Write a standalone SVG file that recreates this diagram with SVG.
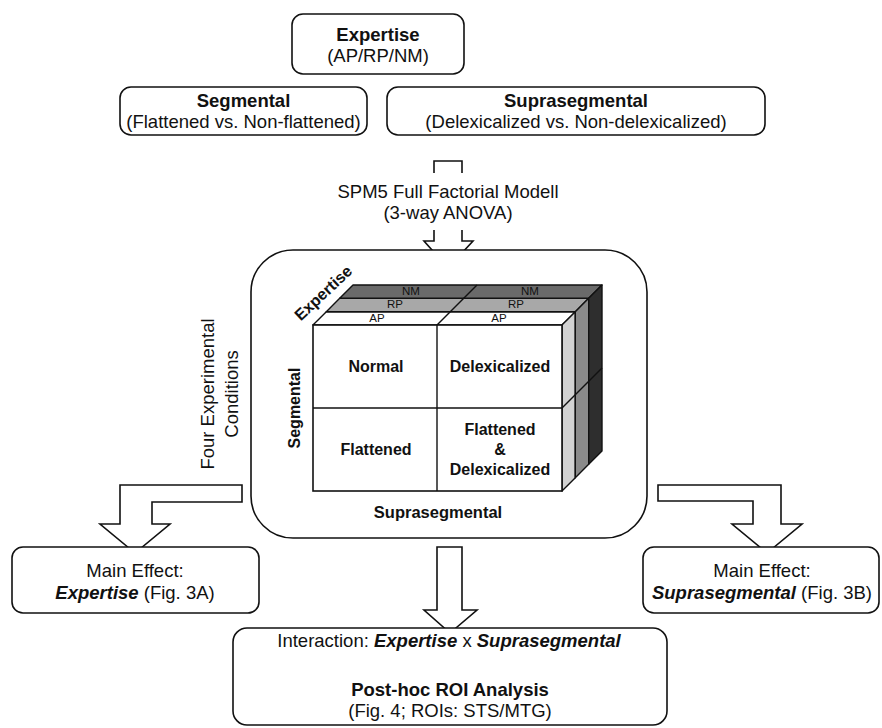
<svg xmlns="http://www.w3.org/2000/svg" width="882" height="728" viewBox="0 0 882 728">
<style>
text{font-family:"Liberation Sans",Arial,sans-serif;fill:#111}
.t{font-size:18.5px}
.b{font-weight:bold}
.bi{font-weight:bold;font-style:italic}
.box{fill:#fff;stroke:#111;stroke-width:1.6}
.arr{fill:#fff;stroke:#111;stroke-width:1.6;stroke-linejoin:miter}
.cl{font-size:16px;font-weight:bold}
.sm{font-size:11.5px}
.edge{stroke:#111;stroke-width:1.4;stroke-linejoin:round}
</style>
<rect width="882" height="728" fill="#fff"/>

<g id="connectors">
  <path class="arr" d="M434,173 V161 H462 V173" fill="none"/>
  <path class="arr" d="M434,230 V241 H424 L448,268 L473,241 H462 V230"/>
  <path class="arr" d="M242,485 H120 V524 H100 L135,553 L170,524 H152 V502 H242 Z"/>
  <path class="arr" d="M658,485 H781 V524 H802 L767,553 L732,524 H753 V501 H658 Z"/>
  <path class="arr" d="M437,547 H462 V610 H477 L450,633 L424,610 H437 Z"/>
</g>

<g id="expertise">
  <rect class="box" x="292" y="14" width="172" height="60" rx="11"/>
  <text class="t b" x="378" y="41" text-anchor="middle">Expertise</text>
  <text class="t" x="378" y="62" text-anchor="middle">(AP/RP/NM)</text>
</g>

<g id="segmental">
  <rect class="box" x="120" y="87" width="247" height="48" rx="11"/>
  <text class="t b" x="243.5" y="107" text-anchor="middle">Segmental</text>
  <text class="t" x="243.5" y="128" text-anchor="middle">(Flattened vs. Non-flattened)</text>
</g>

<g id="suprasegmental">
  <rect class="box" x="387" y="87" width="378" height="48" rx="11"/>
  <text class="t b" x="576" y="107" text-anchor="middle">Suprasegmental</text>
  <text class="t" x="576" y="128" text-anchor="middle">(Delexicalized vs. Non-delexicalized)</text>
</g>

<g id="spm5-label">
  <text class="t" x="448" y="198" text-anchor="middle">SPM5 Full Factorial Modell</text>
  <text class="t" x="448" y="219" text-anchor="middle">(3-way ANOVA)</text>
</g>

<g id="design-cube">
  <rect class="box" x="251" y="250" width="396" height="288" rx="42"/>
  <polygon class="edge" fill="#ffffff" points="313,325 562,325 575.3,311.7 326.3,311.7"/>
  <polygon class="edge" fill="#a8a8a8" points="326.3,311.7 575.3,311.7 588.7,298.3 339.7,298.3"/>
  <polygon class="edge" fill="#6a6a6a" points="339.7,298.3 588.7,298.3 602,285 353,285"/>
  <polygon class="edge" fill="#d2d2d2" points="562,325 575.3,311.7 575.3,477.7 562,491"/>
  <polygon class="edge" fill="#8a8a8a" points="575.3,311.7 588.7,298.3 588.7,464.3 575.3,477.7"/>
  <polygon class="edge" fill="#2e2e2e" points="588.7,298.3 602,285 602,451 588.7,464.3"/>
  <line class="edge" x1="437" y1="325" x2="477" y2="285"/>
  <line class="edge" x1="562" y1="408" x2="602" y2="368"/>
  <rect x="313" y="325" width="249" height="166" fill="#fff" stroke="#111" stroke-width="1.6"/>
  <line class="edge" x1="437" y1="325" x2="437" y2="491"/>
  <line class="edge" x1="313" y1="408" x2="562" y2="408"/>
  <text class="sm" x="377" y="322" text-anchor="middle">AP</text>
  <text class="sm" x="499" y="322" text-anchor="middle">AP</text>
  <text class="sm" x="395" y="308" text-anchor="middle">RP</text>
  <text class="sm" x="516" y="308" text-anchor="middle">RP</text>
  <text class="sm" x="411" y="295" text-anchor="middle">NM</text>
  <text class="sm" x="530" y="295" text-anchor="middle">NM</text>
  <text class="cl" x="376" y="372" text-anchor="middle">Normal</text>
  <text class="cl" x="500" y="372" text-anchor="middle">Delexicalized</text>
  <text class="cl" x="376" y="455" text-anchor="middle">Flattened</text>
  <text class="cl" x="500" y="435" text-anchor="middle">Flattened</text>
  <text class="cl" x="500" y="455" text-anchor="middle">&amp;</text>
  <text class="cl" x="500" y="475" text-anchor="middle">Delexicalized</text>
  <text class="cl" transform="translate(327,297) rotate(-43)" text-anchor="middle">Expertise</text>
  <text class="cl" transform="translate(300,408) rotate(-90)" text-anchor="middle">Segmental</text>
  <text class="cl" x="438" y="518" text-anchor="middle" style="font-size:16.5px">Suprasegmental</text>
</g>

<g id="four-conditions">
  <text class="t" transform="translate(214,394) rotate(-90)" text-anchor="middle">Four Experimental</text>
  <text class="t" transform="translate(238,394) rotate(-90)" text-anchor="middle">Conditions</text>
</g>

<g id="main-effect-expertise">
  <rect class="box" x="12" y="547" width="247" height="66" rx="11"/>
  <text class="t" x="135" y="577" text-anchor="middle">Main Effect:</text>
  <text class="t" x="135" y="599" text-anchor="middle"><tspan class="bi">Expertise</tspan> (Fig. 3A)</text>
</g>

<g id="main-effect-suprasegmental">
  <rect class="box" x="643" y="547" width="236" height="66" rx="11"/>
  <text class="t" x="762" y="577" text-anchor="middle">Main Effect:</text>
  <text class="t" x="762" y="599" text-anchor="middle"><tspan class="bi">Suprasegmental</tspan> (Fig. 3B)</text>
</g>

<g id="interaction">
  <rect class="box" x="233" y="628" width="434" height="97" rx="14"/>
  <text class="t" x="449" y="647" text-anchor="middle">Interaction: <tspan class="bi">Expertise</tspan> x <tspan class="bi">Suprasegmental</tspan></text>
  <text class="t b" x="450" y="696" text-anchor="middle">Post-hoc ROI Analysis</text>
  <text class="t" x="450" y="717" text-anchor="middle">(Fig. 4; ROIs: STS/MTG)</text>
</g>
</svg>
